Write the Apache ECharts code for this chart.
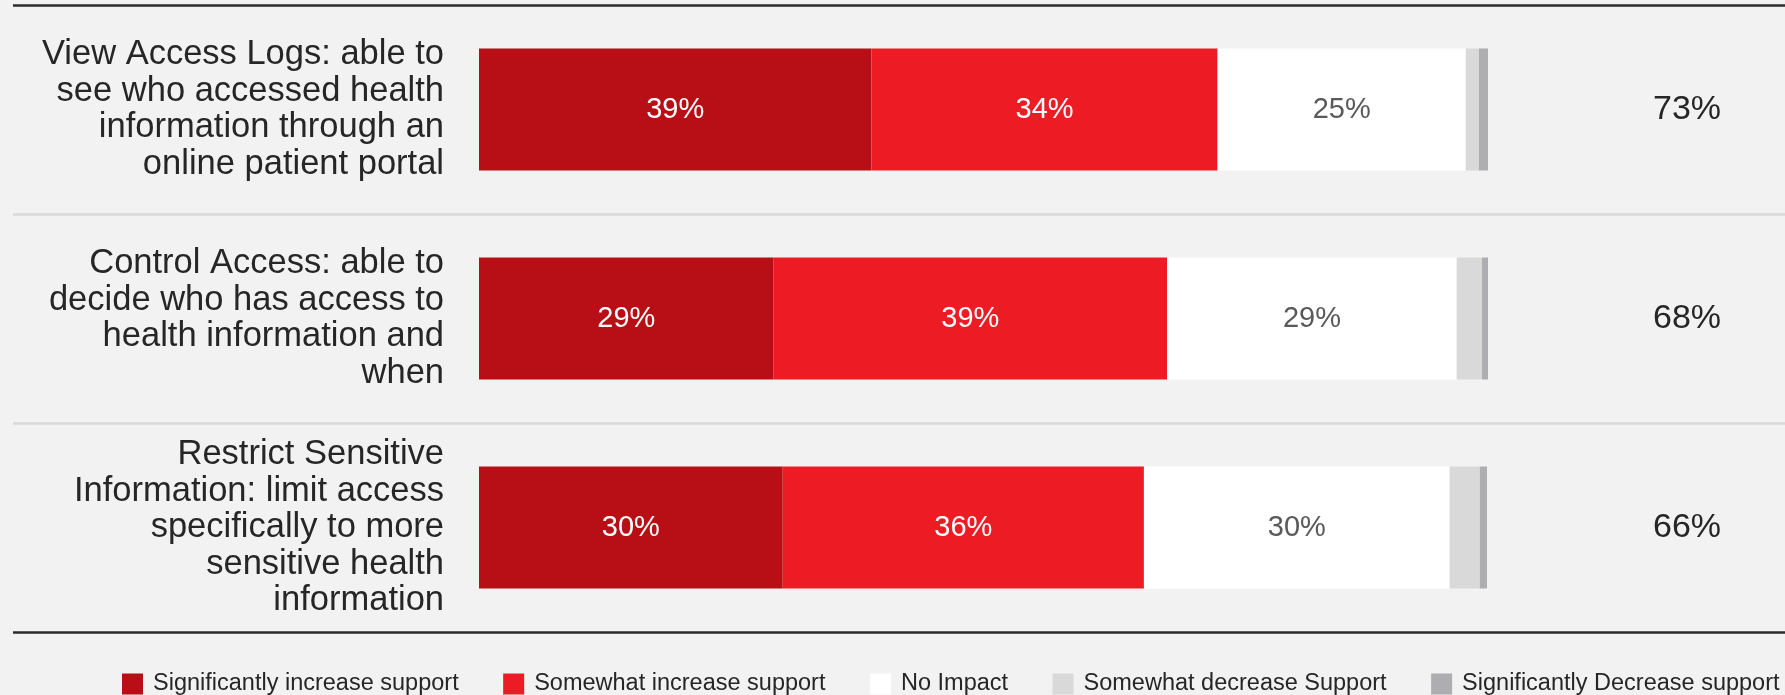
<!DOCTYPE html>
<html>
<head>
<meta charset="utf-8">
<script src="https://cdn.jsdelivr.net/npm/echarts@6/dist/echarts.min.js"></script>
<style>
html,body{margin:0;padding:0;background:#F2F2F2;}
#chart{width:1785px;height:695px;}
</style>
</head>
<body>
<div id="chart"></div>
<script>
var categories = [
  "View Access Logs: able to\nsee who accessed health\ninformation through an\nonline patient portal",
  "Control Access: able to\ndecide who has access to\nhealth information and\nwhen",
  "Restrict Sensitive\nInformation: limit access\nspecifically to more\nsensitive health\ninformation"
];
var seriesNames = ["Significantly increase support", "Somewhat increase support", "No Impact", "Somewhat decrease Support", "Significantly Decrease support"];
var sigIncrease = [38.9, 29.2, 30.1];
var someIncrease = [34.3, 39.0, 35.8];
var noImpact = [24.6, 28.7, 30.3];
var someDecrease = [1.3, 2.5, 3.0];
var sigDecrease = [0.9, 0.6, 0.7];
var netSupportLabels = ["73%", "68%", "66%"];

var FONT = "'Liberation Sans', Arial, sans-serif";
var colors = ["#B70F15", "#ED1C24", "#FFFFFF", "#D9D9D9", "#AEAEB2"];
var labelColors = ["#FFFFFF", "#FFFFFF", "#595959", null, null];
var values = [sigIncrease, someIncrease, noImpact, someDecrease, sigDecrease];

var series = values.map(function (arr, i) {
  return {
    name: seriesNames[i],
    type: "bar",
    stack: "total",
    xAxisIndex: 0,
    yAxisIndex: 0,
    barWidth: 122,
    data: arr,
    itemStyle: { color: colors[i] },
    label: {
      show: labelColors[i] !== null,
      position: "inside",
      color: labelColors[i] || "#000",
      fontFamily: FONT,
      fontSize: 29,
      formatter: function (p) { return Math.round(p.value) + "%"; }
    }
  };
});

var chart = echarts.init(document.getElementById("chart"), null, { renderer: "canvas" });
chart.setOption({
  backgroundColor: "#F2F2F2",
  animation: false,
  textStyle: { fontFamily: FONT },
  grid: [
    { left: 479, right: 297, top: 5, bottom: 63 },
    { left: 13, right: 0, top: 5, bottom: 63 }
  ],
  legend: {
    left: 122,
    top: 672,
    width: 1700,
    padding: 0,
    itemWidth: 21,
    itemHeight: 21,
    itemGap: 44.5,
    icon: "rect",
    data: seriesNames,
    textStyle: { fontFamily: FONT, fontSize: 23.5, color: "#262626", padding: [0, 0, 0, 5] }
  },
  xAxis: [
    { type: "value", gridIndex: 0, min: 0, max: 100, show: false },
    { type: "value", gridIndex: 1, min: 0, max: 100, show: false }
  ],
  yAxis: [
    {
      type: "category", gridIndex: 0, data: categories, inverse: true, position: "left",
      axisLine: { show: false }, axisTick: { show: false }, splitLine: { show: false },
      axisLabel: { margin: 35, fontFamily: FONT, fontSize: 34.5, lineHeight: 36.5, color: "#262626", align: "right" }
    },
    {
      type: "category", gridIndex: 0, data: netSupportLabels, inverse: true, position: "right",
      axisLine: { show: false }, axisTick: { show: false }, splitLine: { show: false },
      axisLabel: { margin: 199, align: "center", fontFamily: FONT, fontSize: 34, color: "#262626" }
    },
    {
      type: "category", gridIndex: 1, data: categories, inverse: true,
      axisLine: { show: false }, axisTick: { show: false }, axisLabel: { show: false },
      splitLine: { show: true, lineStyle: { color: ["#2B2B2B", "#D9D9D9", "#D9D9D9"], width: 2.5 } }
    }
  ],
  series: series
});
</script>
</body>
</html>
